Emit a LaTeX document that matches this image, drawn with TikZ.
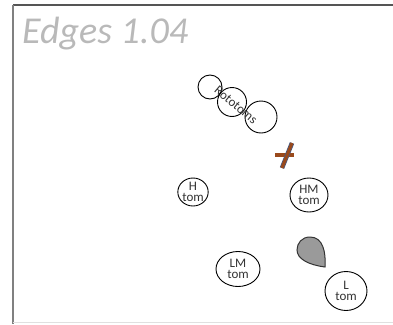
\documentclass[tikz,border=0pt]{standalone}
\usepackage{fontspec}
\setmainfont{Carlito}
\usetikzlibrary{shapes.geometric}
\definecolor{titlegray}{HTML}{B9B9B9}
\definecolor{framegray}{HTML}{555555}
\definecolor{crossbrown}{HTML}{9A4A1C}
\definecolor{crossedge}{HTML}{4A5A80}
\definecolor{dropgray}{HTML}{9A9A9A}
\definecolor{inkgray}{HTML}{333333}
\tikzset{
  drum/.style={ellipse, draw=black, line width=0.9pt, inner sep=0pt, align=center,
    font=\fontsize{13}{11}\selectfont, text=inkgray},
  roto/.style={circle, draw=black, line width=0.9pt, inner sep=0pt},
}
\begin{document}
\begin{tikzpicture}[x=1pt,y=-1pt]
\useasboundingbox (0,0) rectangle (393,324);
% frame
\draw[framegray, line width=1.6pt] (13,5) -- (393,5);
\draw[gray, line width=1.6pt] (13,5) -- (13,324);
\draw[black!12, line width=0.6pt] (13,322.5) -- (393,322.5);
% title
\node[anchor=base west, inner sep=0pt, text=titlegray, font=\fontsize{38}{38}\selectfont\itshape] (title) at (22,43) {Edges 1.04};
% rototoms
\node[roto, minimum size=24pt] (r1) at (210,87) {};
\node[roto, minimum size=29pt] (r2) at (232,102) {};
\node[roto, minimum size=32pt] (r3) at (261,117) {};
\node[rotate=-40, inner sep=0pt, text=inkgray, font=\fontsize{13}{13}\selectfont] (rlabel) at (236,105) {Rototoms};
% cross
\draw[crossbrown, line width=4pt] (275,155) -- (294,155);
\draw[crossedge, line width=4.6pt] (292,143) -- (282,168);
\draw[crossbrown, line width=3pt] (292,143) -- (282,168);
% toms
\node[drum, minimum width=30pt, minimum height=28pt] (h) at (193,192) {H\\tom};
\node[drum, minimum width=38pt, minimum height=34pt] (hm) at (309,195) {HM\\tom};
\node[drum, minimum width=44pt, minimum height=35pt] (lm) at (238,269) {LM\\tom};
\node[drum, minimum width=42pt, minimum height=39pt] (l) at (346,291) {L\\tom};
% teardrop
\draw[fill=dropgray, draw=black!80, line width=1pt]
  (325,267) .. controls (326,252) and (323,237) .. (310,237)
  .. controls (302,237) and (297,243) .. (297,250)
  .. controls (297,259) and (309,265) .. (325,267) -- cycle;
\end{tikzpicture}
\end{document}
